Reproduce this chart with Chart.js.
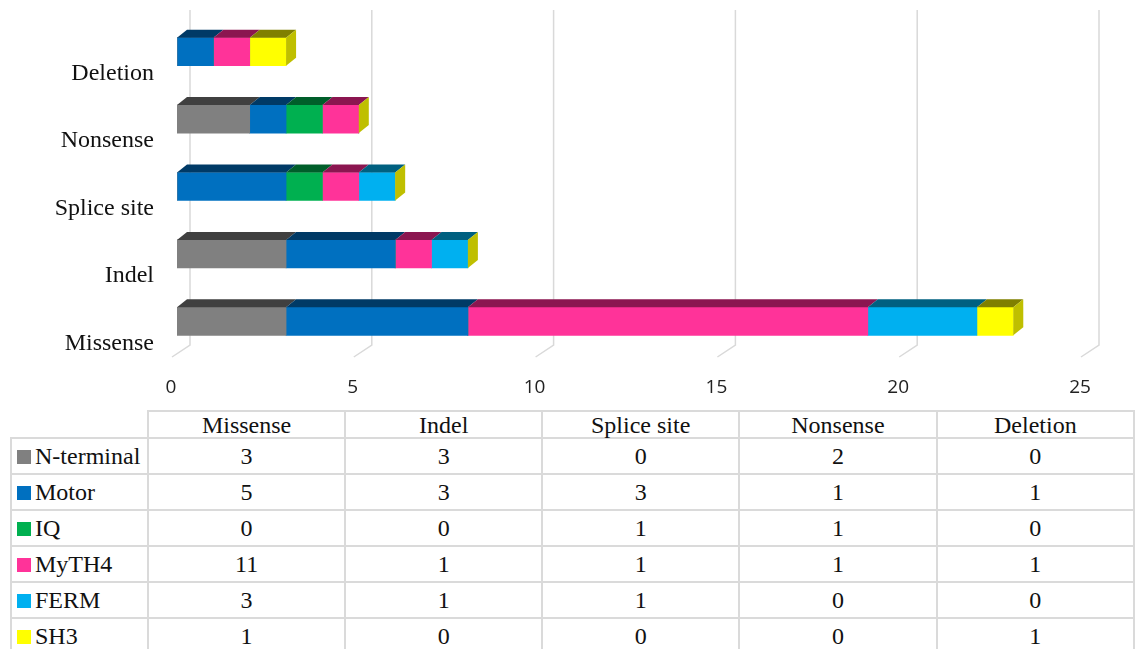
<!DOCTYPE html>
<html>
<head>
<meta charset="utf-8">
<script src="https://cdn.jsdelivr.net/npm/chart.js@4"></script>
<style>
  html, body { margin: 0; padding: 0; background: #fff; overflow: hidden; }
  #wrap { position: absolute; left: 0; top: 0; width: 1135px; height: 400px; }
  #tbl { position: absolute; left: 10px; top: 410px; border-collapse: collapse;
         font-family: "Liberation Serif", "Times New Roman", serif; font-size: 24px; color: #111; }
  #tbl td { border: 2px solid #dadada; padding: 0; text-align: center; }
  #tbl tr.head td { height: 25px; line-height: 22px; }
  #tbl tr.row td { height: 34px; line-height: 26px; }
  #tbl td.name { text-align: left; padding-left: 5px; white-space: nowrap; }
  #tbl td.blank { border-top: none; border-left: none; }
  .sw { display: inline-block; width: 14px; height: 14px; margin-right: 4px; vertical-align: 0px; }
</style>
</head>
<body>
<div id="wrap"><canvas id="c" width="1135" height="400"></canvas></div>
<table id="tbl"></table>
<script>
// categories, bottom to top in the picture
var categories = ['Missense', 'Indel', 'Splice site', 'Nonsense', 'Deletion'];
var seriesNames = ['N-terminal', 'Motor', 'IQ', 'MyTH4', 'FERM', 'SH3'];

var nTerminal = [3, 3, 0, 2, 0];
var motor     = [5, 3, 3, 1, 1];
var iq        = [0, 0, 1, 1, 0];
var myth4     = [11, 1, 1, 1, 1];
var ferm      = [3, 1, 1, 0, 0];
var sh3       = [1, 0, 0, 0, 1];

var xTicks = [0, 5, 10, 15, 20, 25];

var frontColors = ['#808080', '#0070C0', '#00B050', '#FF3399', '#00B0F0', '#FFFF00'];
var topColors   = ['#404040', '#003A66', '#005E2A', '#8B1650', '#006080', '#808000'];
var sideColor   = '#BFBF00';

var allSeries = [nTerminal, motor, iq, myth4, ferm, sh3];

// fake 3d: top faces + right face of the stack, grid on a back wall
var DX = 10, DY = 8;
var threeD = {
  id: 'threeD',
  beforeDatasetsDraw: function (chart) {
    var ctx = chart.ctx, xs = chart.scales.x;
    ctx.save();
    ctx.strokeStyle = '#d9d9d9';
    ctx.lineWidth = 1.5;
    xTicks.forEach(function (v) {
      var px = xs.getPixelForValue(v);
      ctx.beginPath();
      ctx.moveTo(px + 13, 10);
      ctx.lineTo(px + 13, 345);
      ctx.lineTo(px - 5, 357);
      ctx.stroke();
    });
    ctx.restore();
  },
  afterDatasetsDraw: function (chart) {
    var ctx = chart.ctx;
    var last = chart.data.datasets.length - 1;
    ctx.save();
    chart.data.datasets.forEach(function (ds, i) {
      chart.getDatasetMeta(i).data.forEach(function (el) {
        var top = el.y - el.height / 2, bot = el.y + el.height / 2;
        if (el.x - el.base > 0.5) {
          ctx.fillStyle = topColors[i];
          ctx.beginPath();
          ctx.moveTo(el.base, top);
          ctx.lineTo(el.x, top);
          ctx.lineTo(el.x + DX, top - DY);
          ctx.lineTo(el.base + DX, top - DY);
          ctx.closePath();
          ctx.fill();
        }
        if (i === last) {
          ctx.fillStyle = sideColor;
          ctx.beginPath();
          ctx.moveTo(el.x, top);
          ctx.lineTo(el.x + DX, top - DY);
          ctx.lineTo(el.x + DX, bot - DY);
          ctx.lineTo(el.x, bot);
          ctx.closePath();
          ctx.fill();
        }
      });
    });
    ctx.restore();
  }
};

new Chart(document.getElementById('c').getContext('2d'), {
  type: 'bar',
  data: {
    labels: categories,
    datasets: seriesNames.map(function (n, i) {
      return { label: n, data: allSeries[i], backgroundColor: frontColors[i],
               borderWidth: 0, barThickness: 28 };
    })
  },
  options: {
    indexAxis: 'y',
    responsive: false,
    animation: false,
    devicePixelRatio: 1,
    layout: { padding: { top: 18, right: 49, left: 0, bottom: 0 } },
    plugins: { legend: { display: false }, tooltip: { enabled: false } },
    scales: {
      x: {
        stacked: true, min: 0, max: 25,
        afterFit: function (s) { s.height = 45; },
        grid: { display: false }, border: { display: false },
        ticks: { stepSize: 5, padding: 13, labelOffset: -6, color: '#222',
                 font: { family: 'Open Sans', size: 19 } }
      },
      y: {
        stacked: true, reverse: true,
        afterFit: function (s) { s.width = 177; s.paddingTop = 0; s.paddingBottom = 0; },
        grid: { display: false }, border: { display: false },
        ticks: { padding: 15, labelOffset: 22, color: '#111',
                 font: { family: 'Liberation Serif', size: 24 } }
      }
    }
  },
  plugins: [threeD]
});

// data table under the chart
var tbl = document.getElementById('tbl');
var head = '<tr class="head"><td class="blank" style="width:136px"></td>';
categories.forEach(function (c) { head += '<td style="width:197px">' + c + '</td>'; });
head += '</tr>';
var rows = '';
seriesNames.forEach(function (n, i) {
  rows += '<tr class="row"><td class="name"><span class="sw" style="background:' + frontColors[i] + '"></span>' + n + '</td>';
  allSeries[i].forEach(function (v) { rows += '<td>' + v + '</td>'; });
  rows += '</tr>';
});
tbl.innerHTML = head + rows;
</script>
</body>
</html>
